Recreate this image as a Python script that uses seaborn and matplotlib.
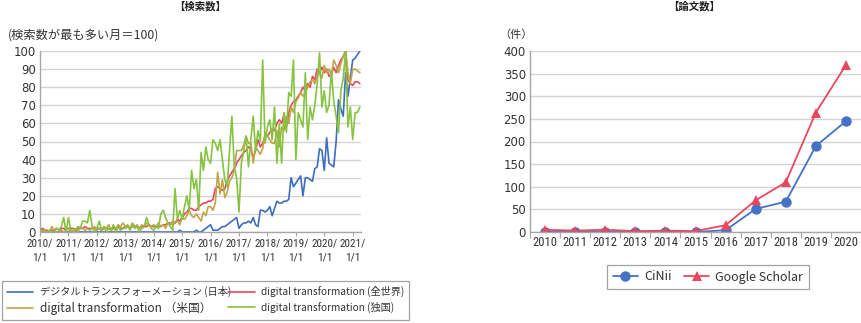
import numpy as np
import pandas as pd
import seaborn as sns
import matplotlib.pyplot as plt
from matplotlib import font_manager
from matplotlib.font_manager import FontProperties

# ---------------- data ----------------
year_tick_labels = ['2010/\n1/1', '2011/\n1/1', '2012/\n1/1', '2013/\n1/1', '2014/\n1/1', '2015/\n1/1',
                    '2016/\n1/1', '2017/\n1/1', '2018/\n1/1', '2019/\n1/1', '2020/\n1/1', '2021/\n1/1']

dx_japan = [
    0, 0, 0, 0, 0, 0, 0, 0, 0, 0, 0, 0,
    0, 0, 0, 0, 0, 0, 0, 0, 0, 0, 0, 0,
    0, 0, 0, 0, 0, 0, 0, 0, 0, 0, 0, 0,
    0, 0, 0, 0, 0, 0, 0, 0, 0, 0, 0, 0,
    0, 0, 0, 0, 0, 0, 0, 0, 0, 0, 0, 1,
    0, 0, 0, 0, 0, 0, 1, 0, 0, 1, 2, 3,
    4, 1, 1, 1, 2, 3, 3, 4, 5, 6, 7, 8,
    2, 4, 5, 5, 6, 5, 8, 4, 3, 12, 12, 11,
    12, 14, 9, 13, 17, 16, 16, 17, 17, 18, 30, 25,
    27, 29, 31, 20, 30, 30, 29, 28, 35, 36, 46, 45,
    34, 52, 38, 37, 36, 50, 73, 68, 64, 88, 75, 85,
    95, 96, 98, 100]

dx_world = [
    1, 2, 1, 1, 0, 1, 1, 2, 1, 2, 2, 1,
    2, 2, 2, 1, 2, 2, 2, 3, 2, 2, 2, 2,
    2, 2, 1, 2, 2, 2, 1, 2, 2, 3, 2, 2,
    3, 3, 2, 3, 3, 3, 2, 3, 3, 3, 4, 3,
    3, 3, 3, 3, 4, 4, 5, 5, 4, 5, 7, 6,
    8, 10, 11, 13, 13, 12, 12, 14, 15, 16, 16, 17,
    17, 18, 24, 25, 24, 23, 24, 28, 31, 33, 35, 38,
    40, 42, 44, 45, 47, 46, 41, 45, 51, 47, 49, 53,
    53, 55, 57, 56, 60, 62, 60, 65, 58, 66, 70, 72,
    73, 75, 77, 80, 78, 82, 80, 86, 84, 90, 88, 91,
    88, 90, 86, 87, 91, 88, 92, 95, 97, 100, 84, 82,
    81, 83, 83, 82]

dx_us = [
    0, 0, 1, 0, 0, 3, 1, 0, 0, 1, 0, 1,
    2, 0, 1, 2, 0, 3, 2, 1, 2, 1, 2, 3,
    1, 2, 1, 3, 2, 4, 1, 3, 2, 4, 3, 5,
    3, 4, 2, 5, 3, 4, 2, 4, 3, 5, 4, 3,
    4, 3, 5, 3, 4, 2, 5, 4, 6, 5, 6, 4,
    8, 7, 9, 12, 9, 8, 10, 8, 6, 11, 9, 14,
    14, 12, 16, 33, 21, 29, 19, 22, 28, 30, 34, 45,
    45, 45, 48, 53, 49, 49, 38, 47, 45, 43, 46, 55,
    53, 51, 49, 49, 56, 47, 58, 56, 64, 60, 69, 66,
    72, 74, 77, 75, 77, 80, 83, 84, 82, 86, 88, 85,
    92, 88, 90, 86, 95, 92, 88, 93, 97, 100, 88, 82,
    90, 90, 89, 88]

dx_germany = [
    0, 1, 0, 0, 1, 0, 0, 2, 1, 3, 8, 0,
    8, 1, 0, 1, 3, 2, 6, 6, 5, 12, 3, 0,
    2, 6, 1, 3, 0, 2, 1, 4, 0, 3, 1, 2,
    2, 3, 1, 4, 2, 3, 0, 2, 3, 8, 4, 2,
    1, 3, 2, 10, 12, 8, 5, 3, 1, 24, 7, 12,
    7, 14, 20, 12, 34, 24, 29, 12, 44, 34, 47, 40,
    38, 51, 49, 45, 51, 40, 29, 25, 45, 64, 36, 30,
    11, 38, 45, 53, 36, 51, 64, 45, 56, 50, 95, 49,
    58, 62, 51, 69, 38, 60, 38, 66, 55, 77, 75, 95,
    40, 66, 62, 58, 88, 51, 69, 62, 70, 82, 99, 69,
    78, 66, 70, 89, 72, 64, 55, 78, 85, 100, 58, 69,
    51, 66, 66, 69]

search_series = ['デジタルトランスフォーメーション (日本)', 'digital transformation (全世界)',
                 'digital transformation （米国）', 'digital transformation (独国)']
search_colors = ['#3f6dbf', '#e8475f', '#bfa548', '#86c340']

paper_years = [2010, 2011, 2012, 2013, 2014, 2015, 2016, 2017, 2018, 2019, 2020]
cinii = [0, 0, 0, 0, 0, 0, 4, 51, 67, 190, 245]
google_scholar = [5, 3, 5, 2, 3, 2, 15, 70, 110, 264, 369]
paper_series = ['CiNii', 'Google Scholar']
paper_colors = ['#4472c4', '#e8485f']

# ---------------- style ----------------
sns.set_theme(style='white')
plt.rcParams['font.family'] = ['Noto Sans CJK JP', 'DejaVu Sans']

# look for a narrow font for the crowded category labels
narrow_fp = None
narrow_scale = 1.0
prefs = [('LiberationSansNarrow-Regular', 1.0), ('RobotoCondensed-Regular', 0.92),
         ('OpenSans_Condensed-Regular', 0.9), ('OpenSansCondensed', 0.9),
         ('DejaVuSansCondensed.ttf', 0.85)]
files = [f.fname for f in font_manager.fontManager.ttflist]
for key, sc in prefs:
    hit = [f for f in files if key.lower() in f.lower()]
    if hit:
        narrow_fp = hit[0]
        narrow_scale = sc
        break

def tick_fp(size):
    if narrow_fp:
        return FontProperties(fname=narrow_fp, size=size * narrow_scale)
    return FontProperties(family='Noto Sans CJK JP', size=size * 0.85)

TXT = '#333333'
GRID = '#d4d4d4'
SPINE = '#a6a6a6'

fig = plt.figure(figsize=(8.62, 3.23), dpi=100)
W, H = 862, 323

def axrect(x0, x1, y0, y1):
    return [x0 / W, 1 - y1 / H, (x1 - x0) / W, (y1 - y0) / H]

# ---------------- left chart ----------------
ax1 = fig.add_axes(axrect(40, 361, 51, 232))
n = len(dx_japan)
month_idx = np.arange(n)
df_left = pd.concat([
    pd.DataFrame({'month': month_idx, 'value': vals, 'series': name})
    for name, vals in zip(search_series, [dx_japan, dx_world, dx_us, dx_germany])
], ignore_index=True)

sns.lineplot(data=df_left, x='month', y='value', hue='series', hue_order=search_series,
             palette=search_colors, linewidth=1.2, ax=ax1, legend=False)

ax1.set_xlim(0, 135.5)
ax1.set_ylim(0, 100)
ax1.set_yticks(np.arange(0, 101, 10))
ax1.set_xticks(np.arange(0, 12 * len(year_tick_labels), 12))
ax1.set_xticklabels(year_tick_labels, color=TXT, linespacing=1.45)
for t in ax1.get_xticklabels():
    t.set_fontproperties(tick_fp(8.8))
for t in ax1.get_yticklabels():
    t.set_family('DejaVu Sans')
ax1.tick_params(axis='y', labelsize=8.5, colors=TXT, length=0, pad=3)
ax1.tick_params(axis='x', length=3, color=SPINE, pad=2, width=0.8, direction='out', bottom=True)
ax1.grid(axis='y', color=GRID, linewidth=1.0)
ax1.set_axisbelow(True)
for s in ['top', 'right']:
    ax1.spines[s].set_visible(False)
for s in ['left', 'bottom']:
    ax1.spines[s].set_color(SPINE)
    ax1.spines[s].set_linewidth(1.0)
ax1.set_xlabel('')
ax1.set_ylabel('')

fig.text(200 / W, 1 - 6 / H, '【検索数】', ha='center', va='center', fontsize=7.5,
         fontweight='bold', color='#222222')
fig.text(8 / W, 1 - 35 / H, '(検索数が最も多い月＝100)', ha='left', va='center',
         fontsize=8.8, color=TXT)

lines1 = ax1.get_lines()[:4]
h1 = [lines1[0], lines1[2], lines1[1], lines1[3]]
l1 = [search_series[0], search_series[2], search_series[1], search_series[3]]
leg1 = fig.legend(h1, l1, loc='center', bbox_to_anchor=(2 / W, 1 - 322 / H, 407 / W, 43 / H),
                  mode='expand', ncol=2, fontsize=7.3, frameon=True, fancybox=False,
                  handlelength=2.6, handletextpad=0.6, columnspacing=1.0, borderpad=0.5,
                  labelspacing=0.45, borderaxespad=0)
leg1.get_frame().set_edgecolor('#8c8c8c')
leg1.get_frame().set_linewidth(0.9)
for t in leg1.get_texts():
    t.set_color(TXT)
leg1.get_texts()[1].set_fontsize(8.5)

# ---------------- right chart ----------------
ax2 = fig.add_axes(axrect(530, 861, 51, 232))
df_right = pd.concat([
    pd.DataFrame({'year': paper_years, 'count': vals, 'source': name})
    for name, vals in zip(paper_series, [cinii, google_scholar])
], ignore_index=True)

sns.lineplot(data=df_right, x='year', y='count', hue='source', style='source',
             hue_order=paper_series, style_order=paper_series, palette=paper_colors,
             markers={'CiNii': 'o', 'Google Scholar': '^'}, dashes=False,
             markersize=7.5, markeredgewidth=0, linewidth=1.3, ax=ax2)

ax2.set_xlim(paper_years[0] - 0.5, paper_years[-1] + 0.5)
ax2.set_ylim(0, 400)
ax2.set_yticks(np.arange(0, 401, 50))
ax2.set_xticks(paper_years)
ax2.set_xticklabels([str(y) for y in paper_years], color=TXT)
for t in ax2.get_xticklabels():
    t.set_fontproperties(tick_fp(9.8))
ax2.set_xticks(np.arange(paper_years[0] - 0.5, paper_years[-1] + 0.6, 1), minor=True)
for t in ax2.get_yticklabels():
    t.set_family('DejaVu Sans')
ax2.tick_params(axis='y', labelsize=8.5, colors=TXT, length=0, pad=3)
ax2.tick_params(axis='x', which='major', length=0, pad=3)
ax2.tick_params(axis='x', which='minor', length=4, color=SPINE, width=0.8, direction='out', bottom=True)
ax2.grid(axis='y', color=GRID, linewidth=1.0)
ax2.set_axisbelow(True)
for s in ['top', 'right']:
    ax2.spines[s].set_visible(False)
for s in ['left', 'bottom']:
    ax2.spines[s].set_color(SPINE)
    ax2.spines[s].set_linewidth(1.0)
ax2.set_xlabel('')
ax2.set_ylabel('')

fig.text(694 / W, 1 - 6 / H, '【論文数】', ha='center', va='center', fontsize=7.5,
         fontweight='bold', color='#222222')
fig.text(499 / W, 1 - 35 / H, '（件）', ha='left', va='center', fontsize=8, color=TXT)

h2, l2 = ax2.get_legend_handles_labels()
if ax2.get_legend() is not None:
    ax2.get_legend().remove()
pairs = [(h, l) for h, l in zip(h2, l2) if l in paper_series]
leg2 = fig.legend([p[0] for p in pairs], [p[1] for p in pairs], loc='center',
                  bbox_to_anchor=(708 / W, 1 - 277 / H), ncol=2, fontsize=9, frameon=True,
                  fancybox=False, handlelength=2.0, handletextpad=0.5, columnspacing=1.0,
                  borderpad=0.45, borderaxespad=0)
leg2.get_frame().set_edgecolor('#8c8c8c')
leg2.get_frame().set_linewidth(0.9)
for t in leg2.get_texts():
    t.set_color(TXT)

fig.savefig('out.png', dpi=100)
